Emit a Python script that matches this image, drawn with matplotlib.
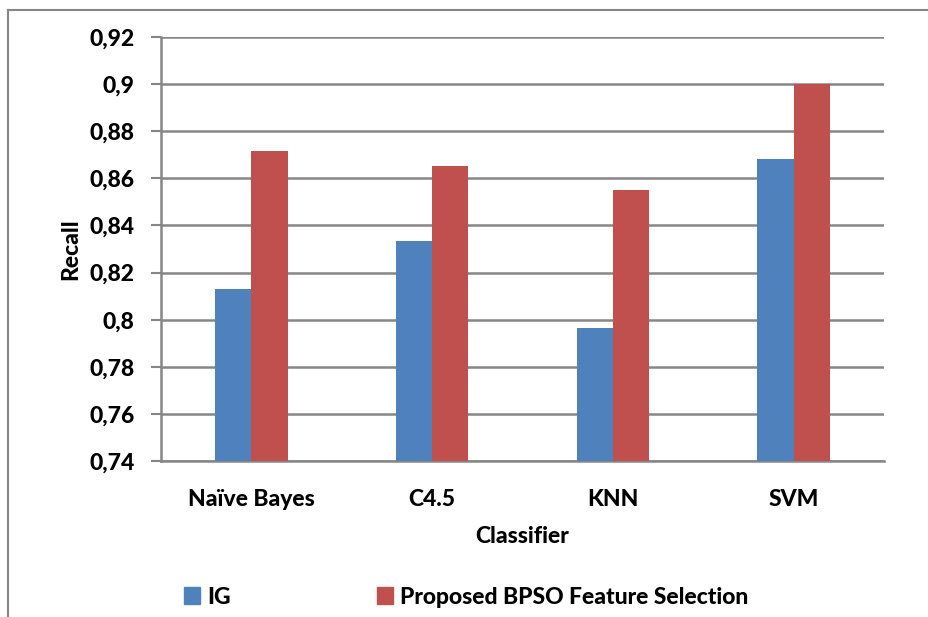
import matplotlib.pyplot as plt
import numpy as np
from matplotlib.patches import Patch
from matplotlib.lines import Line2D

# data
classifiers = ['Naïve Bayes', 'C4.5', 'KNN', 'SVM']
ig_recall = [0.8132, 0.8332, 0.7966, 0.8683]
bpso_recall = [0.8718, 0.8652, 0.8550, 0.9002]
yticks = [0.74, 0.76, 0.78, 0.80, 0.82, 0.84, 0.86, 0.88, 0.90, 0.92]
ytick_labels = ['0,74', '0,76', '0,78', '0,8', '0,82', '0,84', '0,86', '0,88', '0,9', '0,92']

plt.rcParams['font.family'] = ['Lato', 'DejaVu Sans']
fw = 'black'
fs = 16.5

blue = '#4F81BD'
red = '#C0504D'
grey = '#868686'

fig = plt.figure(figsize=(9.29, 6.17), dpi=100)
ax = fig.add_axes([161 / 929, 1 - 461 / 617, (884 - 161) / 929, (461 - 37) / 617])

x = np.arange(len(classifiers))
w = 0.2
ax.bar(x - w / 2, ig_recall, w, color=blue, label='IG', zorder=3)
ax.bar(x + w / 2, bpso_recall, w, color=red, label='Proposed BPSO Feature Selection', zorder=3)

ax.set_xlim(-0.5, len(classifiers) - 0.5)
ax.set_ylim(0.74, 0.92)
ax.set_yticks(yticks)
ax.set_yticklabels(ytick_labels, fontsize=fs, fontweight=fw)
ax.set_xticks(x)
ax.set_xticklabels(classifiers, fontsize=fs, fontweight=fw)
ax.tick_params(axis='x', length=0, pad=20)
ax.tick_params(axis='y', length=7, width=1.5, color=grey, pad=12)

ax.grid(axis='y', color=grey, linewidth=1.8, zorder=0)
ax.set_axisbelow(True)
for s in ['top', 'right']:
    ax.spines[s].set_visible(False)
for s in ['left', 'bottom']:
    ax.spines[s].set_color(grey)
    ax.spines[s].set_linewidth(1.8)

ax.set_xlabel('Classifier', fontsize=fs, fontweight=fw, labelpad=12)
ax.set_ylabel('Recall', fontsize=fs, fontweight=fw, labelpad=6)

handles = [Patch(color=blue), Patch(color=red)]
fig.legend(handles, ['IG', 'Proposed BPSO Feature Selection'], loc='center left',
           bbox_to_anchor=(184 / 929, 1 - 597 / 617), ncol=2, frameon=False,
           prop={'size': fs, 'weight': fw}, handlelength=0.7, handleheight=0.7,
           columnspacing=6.4, handletextpad=0.3, borderpad=0, borderaxespad=0)

# outer frame (top and left only, cropped screenshot)
fig.add_artist(Line2D([8 / 929, 8 / 929], [0, 1 - 10 / 617], color=grey, lw=1.5))
fig.add_artist(Line2D([8 / 929, 1], [1 - 10 / 617, 1 - 10 / 617], color=grey, lw=1.5))

fig.savefig('out.png', dpi=100)
